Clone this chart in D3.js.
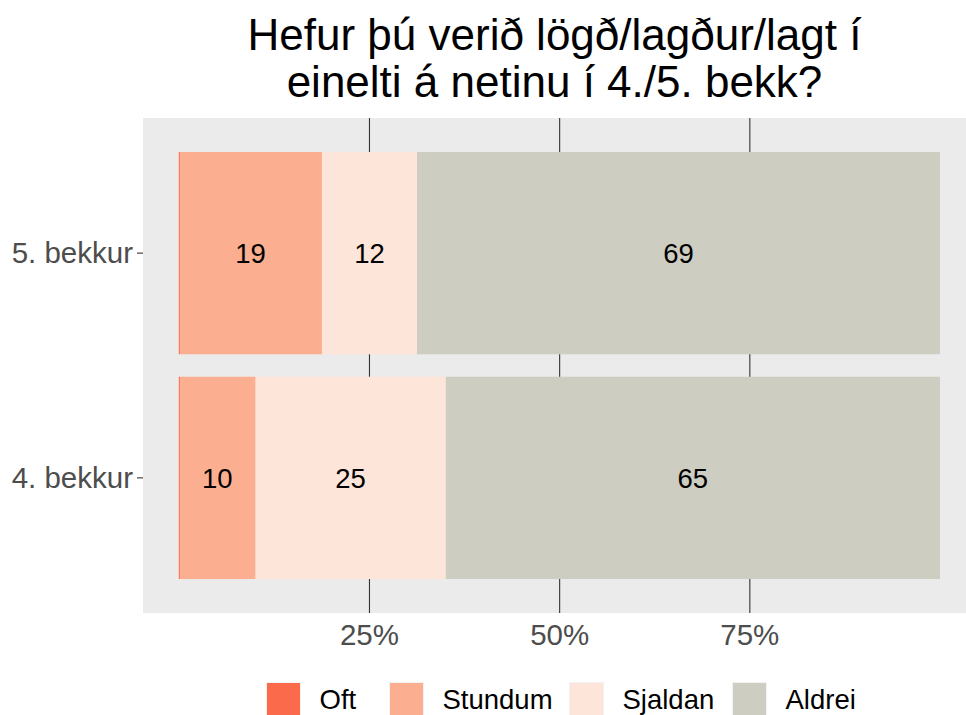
<!DOCTYPE html>
<html><head><meta charset="utf-8">
<script src="https://cdn.jsdelivr.net/npm/d3@7"></script>
<style>body{margin:0;background:#fff}svg{display:block}text{font-family:"Liberation Sans",Arial,sans-serif}</style>
</head><body>
<script>
const categories = ["5. bekkur", "4. bekkur"];
const seriesNames = ["Oft", "Stundum", "Sjaldan", "Aldrei"];
const oft = [0, 0];
const stundum = [18.75, 10];
const sjaldan = [12.5, 25];
const aldrei = [68.75, 65];
const xTicks = [25, 50, 75];
const titleLines = ["Hefur þú verið lögð/lagður/lagt í", "einelti á netinu í 4./5. bekk?"];
const colors = ["#FB6A4A", "#FCAE91", "#FEE5D9", "#CDCDC1"];

const W = 966, H = 715;
const svg = d3.select("body").append("svg").attr("width", W).attr("height", H);
const panel = {x0: 143, x1: 966, y0: 118, y1: 613};

const x = d3.scaleLinear().domain([0, 100]).range([179.3, 940]);
const y = d3.scaleBand().domain(categories).range([129.5, 601.5]).paddingInner(0.1).paddingOuter(0.1);

// round half to even (as R does)
function roundEven(v) {
  const f = Math.floor(v), diff = v - f;
  if (Math.abs(diff - 0.5) < 1e-9) return f % 2 === 0 ? f : f + 1;
  return Math.round(v);
}

svg.append("rect").attr("x", panel.x0).attr("y", panel.y0).attr("width", panel.x1 - panel.x0).attr("height", panel.y1 - panel.y0).attr("fill", "#EBEBEB");

// grid
svg.selectAll("line.grid").data(xTicks).enter().append("line")
  .attr("x1", d => x(d)).attr("x2", d => x(d)).attr("y1", panel.y0).attr("y2", panel.y1)
  .attr("stroke", "#333333").attr("stroke-width", 1.1);

const series = [oft, stundum, sjaldan, aldrei];
const data = categories.map((c, i) => {
  const o = {cat: c};
  seriesNames.forEach((s, j) => o[s] = series[j][i]);
  return o;
});
const stack = d3.stack().keys(seriesNames)(data);

// draw later layers first so a zero-width "Oft" bar stays visible as a hairline on top
stack.slice().reverse().forEach(layer => {
  const j = layer.index;
  const g = svg.append("g");
  g.selectAll("rect").data(layer).enter().append("rect")
    .attr("x", d => x(d[0]) - (d[1] - d[0] > 0 ? 0 : 0.5))
    .attr("width", d => Math.max(1, x(d[1]) - x(d[0])))
    .attr("y", d => y(d.data.cat)).attr("height", y.bandwidth())
    .attr("fill", colors[j]);
  g.selectAll("text").data(layer.filter(d => d[1] - d[0] > 0)).enter().append("text")
    .attr("x", d => (x(d[0]) + x(d[1])) / 2).attr("y", d => y(d.data.cat) + y.bandwidth() / 2 + 10)
    .attr("text-anchor", "middle")
    .attr("font-size", 27.5).attr("fill", "#000")
    .text(d => roundEven(d[1] - d[0]));
});

// y axis
const ya = svg.append("g");
categories.forEach(c => {
  const cy = y(c) + y.bandwidth() / 2;
  ya.append("line").attr("x1", 137).attr("x2", 143).attr("y1", cy).attr("y2", cy).attr("stroke", "#333").attr("stroke-width", 1.1);
  ya.append("text").attr("x", 133).attr("y", cy + 10.3).attr("text-anchor", "end")
    .attr("font-size", 29.5).attr("fill", "#4D4D4D").text(c);
});

// x axis labels
svg.selectAll("text.xt").data(xTicks).enter().append("text")
  .attr("x", d => x(d)).attr("y", 644.5).attr("text-anchor", "middle")
  .attr("font-size", 29.5).attr("fill", "#4D4D4D").text(d => d + "%");

// title
titleLines.forEach((t, i) => {
  svg.append("text").attr("x", 554.5).attr("y", 49.5 + i * 47).attr("text-anchor", "middle")
    .attr("font-size", 44).attr("fill", "#000").text(t);
});

// legend
const legX = [267, 390, 570, 733];
seriesNames.forEach((s, i) => {
  svg.append("rect").attr("x", legX[i] - 1).attr("y", 682).attr("width", 35).attr("height", 35).attr("fill", "#F2F2F2");
  svg.append("rect").attr("x", legX[i]).attr("y", 683).attr("width", 33).attr("height", 33).attr("fill", colors[i]);
  svg.append("text").attr("x", legX[i] + 52.5).attr("y", 709.3).attr("font-size", 27.5).attr("fill", "#000").text(s);
});
</script>
</body></html>
